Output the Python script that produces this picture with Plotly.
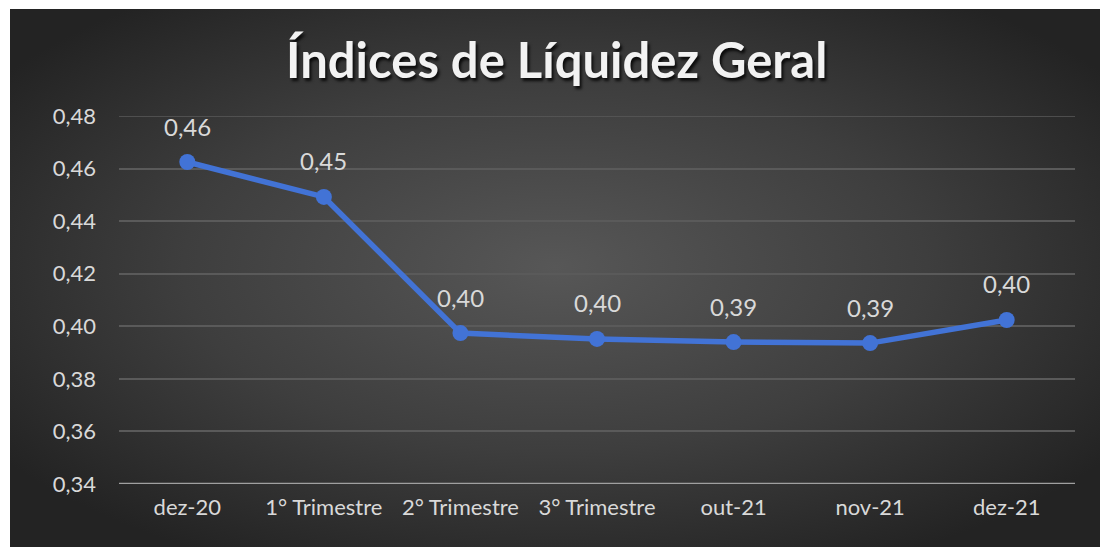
import base64
import plotly.graph_objects as go

categories = ["dez-20", "1° Trimestre", "2° Trimestre", "3° Trimestre", "out-21", "nov-21", "dez-21"]
values = [0.4625, 0.4492, 0.3974, 0.3952, 0.3940, 0.3936, 0.4024]
y_ticks = [0.34, 0.36, 0.38, 0.40, 0.42, 0.44, 0.46, 0.48]
title_text = "Índices de Líquidez Geral"

W, H = 1100, 547
ML, MR, MT, MB = 119, 25, 116, 63
PW, PH = W - ML - MR, H - MT - MB
FONT = "Lato, Open Sans, sans-serif"

svg = (
    '<svg xmlns="http://www.w3.org/2000/svg" width="1090" height="538" viewBox="0 0 1090 538" preserveAspectRatio="none">'
    '<defs><radialGradient id="g" cx="50%" cy="48%" r="62%">'
    '<stop offset="0%" stop-color="#575757"/><stop offset="55%" stop-color="#3e3e3e"/>'
    '<stop offset="100%" stop-color="#232323"/></radialGradient></defs>'
    '<rect x="0" y="0" width="1090" height="538" fill="url(#g)"/></svg>'
)
src = "data:image/svg+xml;base64," + base64.b64encode(svg.encode()).decode()

def px_x(p):
    return (p - ML) / PW

def px_y(p):
    return (H - MB - p) / PH

fig = go.Figure()
fig.add_trace(go.Scatter(
    x=categories, y=values, mode="lines+markers",
    line=dict(color="#4273d6", width=5.5),
    marker=dict(color="#4273d6", size=16),
    hoverinfo="x+y",
))

annotations = []
for c, v in zip(categories, values):
    annotations.append(dict(
        x=c, y=v, text=f"{v:.2f}".replace(".", ","), showarrow=False,
        yshift=36, font=dict(family=FONT, size=24, color="#d9d9d9"),
    ))
annotations.append(dict(
    xref="paper", yref="paper", x=px_x(556), y=px_y(59), text=title_text,
    showarrow=False, xanchor="center", yanchor="middle",
    font=dict(family=FONT, size=49, weight="bold", color="#f2f2f2",
              shadow="2px 3px 3px rgba(0,0,0,0.8)"),
))

fig.update_layout(
    width=W, height=H,
    margin=dict(l=ML, r=MR, t=MT, b=MB, pad=0),
    paper_bgcolor="white",
    plot_bgcolor="rgba(0,0,0,0)",
    separators=",.",
    showlegend=False,
    annotations=annotations,
    images=[dict(
        source=src, xref="paper", yref="paper",
        x=px_x(10), y=px_y(9), sizex=1090 / PW, sizey=538 / PH,
        xanchor="left", yanchor="top", sizing="stretch", layer="below",
    )],
    xaxis=dict(
        type="category", showgrid=False, zeroline=False, showline=False,
        ticks="", tickfont=dict(family=FONT, size=22, color="#d9d9d9"),
        range=[-0.5, len(categories) - 0.5], fixedrange=True, ticklabelstandoff=8,
    ),
    yaxis=dict(
        range=[0.34, 0.48], tickvals=y_ticks, tickformat=".2f",
        showgrid=True, gridcolor="#5a5a5a", gridwidth=1.5, zeroline=False,
        showline=False, ticks="", ticklabelstandoff=22,
        tickfont=dict(family=FONT, size=22, color="#d9d9d9"),
        fixedrange=True,
    ),
    shapes=[
        dict(type="line", xref="paper", yref="y", x0=0, x1=1, y0=y_ticks[0], y1=y_ticks[0],
             line=dict(color="#a0a0a0", width=2.5), layer="below"),
        dict(type="line", xref="paper", yref="y", x0=0, x1=1, y0=y_ticks[-1], y1=y_ticks[-1],
             line=dict(color="#5a5a5a", width=1.5), layer="below"),
    ],
)

fig.write_html("out.html", config={"displayModeBar": False},
               post_script="document.body.style.margin='0';document.body.style.padding='0';")
